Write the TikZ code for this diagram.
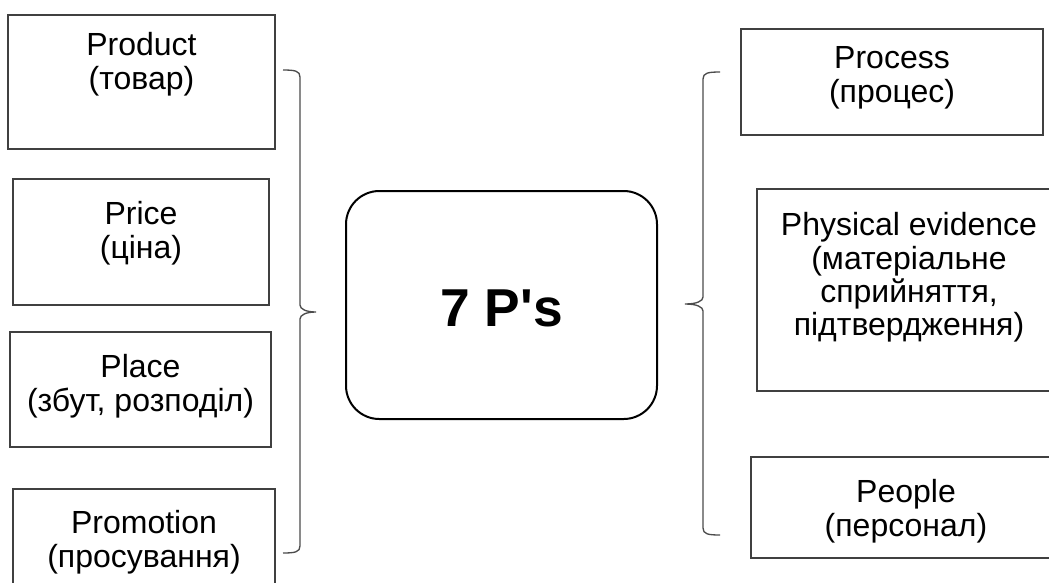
\documentclass[tikz,border=0pt]{standalone}
\usepackage{fontspec}
\setmainfont{Liberation Sans}
\usetikzlibrary{positioning,fit}

\tikzset{
  pbox/.style={draw=black!75, line width=0.8pt, inner sep=0pt},
  ptext/.style={align=center, inner sep=0pt, font=\fontsize{24}{25}\selectfont},
  hub/.style={draw=black, line width=1.5pt, rounded corners=25pt, inner sep=0pt},
  hubtext/.style={inner sep=0pt, font=\bfseries\fontsize{40}{44}\selectfont},
  brace/.style={draw=black!70, line width=1pt},
}

\begin{document}
\begin{tikzpicture}[x=0.75pt, y=-0.75pt]
    \useasboundingbox (0,0) rectangle (1049,582);

    % left column
    \node[pbox, fit={(8,15) (275,149)}] (product) {};
    \node[ptext, below=13.5pt of product.north] (product text) {Product\\(товар)};
    \node[pbox, fit={(13,179) (269,305)}] (price) {};
    \node[ptext, below=17.25pt of price.north] (price text) {Price\\(ціна)};
    \node[pbox, fit={(10,332) (271,447)}] (place) {};
    \node[ptext, below=17.25pt of place.north] (place text) {Place\\(збут, розподіл)};
    \node[pbox, fit={(13,489) (275,600)}] (promotion) {};
    \node[ptext, below=16.5pt of promotion.north] (promotion text) {Promotion\\(просування)};

    % centre
    \node[hub, fit={(346,191) (657,419)}] (hub) {};
    \node[hubtext, anchor=base] (hub text) at (501.5,326) {7 P\textquotesingle s};

    % right column
    \node[pbox, fit={(741,29) (1043,135)}] (process) {};
    \node[ptext, below=13.5pt of process.north] (process text) {Process\\(процес)};
    \node[pbox, fit={(757,189) (1061,391)}] (evidence) {};
    \node[ptext, below=18pt of evidence.north] (evidence text) {Physical evidence\\(матеріальне\\сприйняття,\\підтвердження)};
    \node[pbox, fit={(751,457) (1061,558)}] (people) {};
    \node[ptext, below=17.25pt of people.north] (people text) {People\\(персонал)};

    % braces
    \draw[brace] (283,70) .. controls (295,70) and (300,71) .. (300,77) -- (300,305)
        .. controls (300,309) and (306,312) .. (316,312)
        .. controls (306,312) and (300,315) .. (300,319) -- (300,546)
        .. controls (300,552) and (295,553) .. (283,553);
    \draw[brace] (720,72) .. controls (708,72) and (703,73) .. (703,79) -- (703,297)
        .. controls (703,301) and (697,304) .. (685,304)
        .. controls (697,304) and (703,307) .. (703,311) -- (703,528)
        .. controls (703,534) and (708,535) .. (720,535);
\end{tikzpicture}
\end{document}
